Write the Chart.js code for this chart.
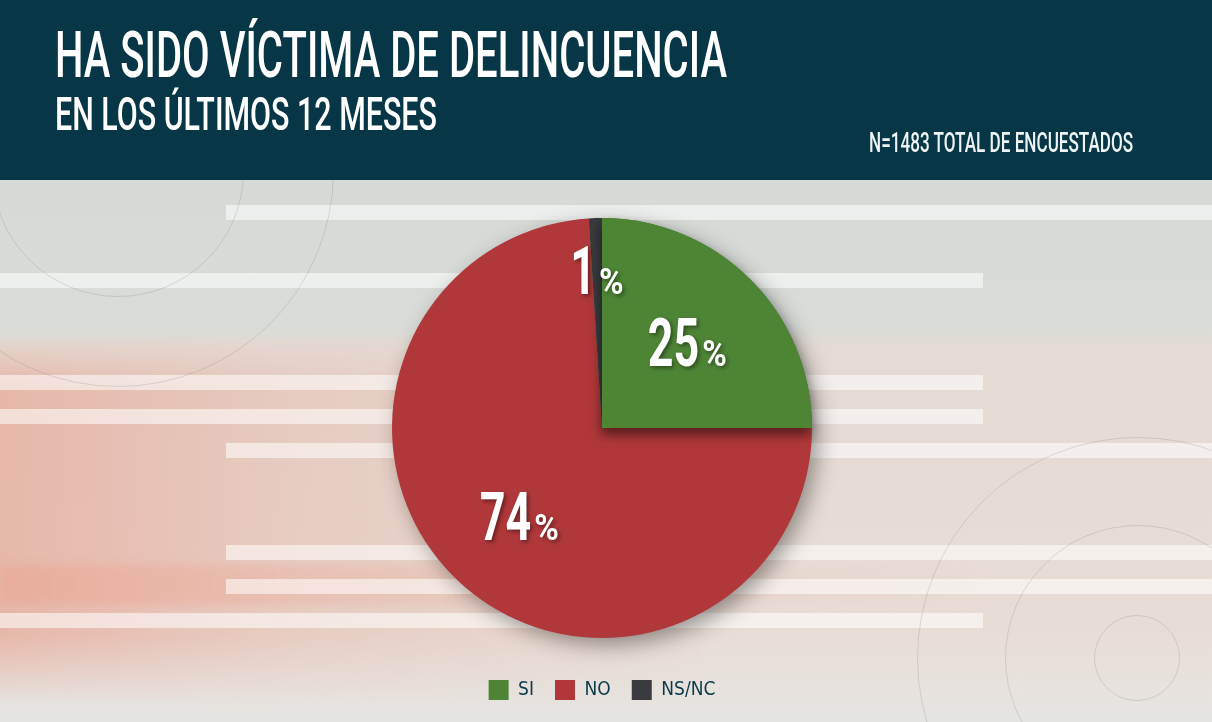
<!DOCTYPE html>
<html lang="es">
<head>
<meta charset="utf-8">
<title>Ha sido víctima de delincuencia</title>
<script src="https://cdn.jsdelivr.net/npm/chart.js@4.4.0/dist/chart.umd.min.js"></script>
<style>
    html, body { margin: 0; padding: 0; }
    body {
        width: 1212px; height: 722px; position: relative; overflow: hidden;
        font-family: Roboto, sans-serif; background: #e6e3df;
    }
    .header {
        position: absolute; left: 0; top: 0; width: 1212px; height: 180px;
        background: #073746; z-index: 2;
    }
    .header .t {
        position: absolute; color: #fff; white-space: nowrap; line-height: 1;
        transform-origin: 0 0; font-weight: 500;
    }
    #title1 { left: 55px; top: 23px; font-size: 65px; }
    #title2 { left: 55px; top: 91px; font-size: 46.5px; }
    #note { left: 869px; top: 129px; font-size: 28px; color: #eef3f4; }

    .bg {
        position: absolute; left: 0; top: 180px; width: 1212px; height: 542px; overflow: hidden;
        background: linear-gradient(to bottom, #d6dad7 0, #d9dcd9 145px, #e5dbd4 170px, #e8ddd6 450px, #e7e3df 515px, #e4e5e2 542px);
    }
    .pink {
        position: absolute; left: 0; top: 155px; width: 900px; height: 370px;
        background: linear-gradient(to right, rgba(230,160,140,0.6) 0, rgba(232,175,158,0.35) 300px, rgba(232,190,175,0) 720px);
        -webkit-mask-image: linear-gradient(to bottom, transparent 0, #000 50px, #000 300px, transparent 370px);
    }
    .band {
        position: absolute; left: 0; top: 385px; width: 1212px; height: 40px;
        background: linear-gradient(to right, rgba(235,160,140,0.45) 0, rgba(235,170,150,0.2) 500px, rgba(235,170,150,0) 1000px);
        filter: blur(4px);
    }
    .stripe { position: absolute; height: 15px; background: rgba(255,255,255,0.55); }
    .ring { position: absolute; border-radius: 50%; border: 1.5px solid rgba(120,120,120,0.22); }
    #chartBox { position: absolute; left: 0; top: 180px; width: 1212px; height: 542px; z-index: 1; }
</style>
</head>
<body>
<div class="header">
    <div class="t" id="title1" data-w="672">HA SIDO VÍCTIMA DE DELINCUENCIA</div>
    <div class="t" id="title2" data-w="382">EN LOS ÚLTIMOS 12 MESES</div>
    <div class="t" id="note" data-w="264">N=1483 TOTAL DE ENCUESTADOS</div>
</div>
<div class="bg" id="bg">
    <div class="pink"></div>
    <div class="band"></div>
</div>
<div id="chartBox"><canvas id="pieChart"></canvas></div>

<script>
// Chart data
const categories = ["SI", "NO", "NS/NC"];
const percentages = [25, 74, 1];
const sliceColors = ["#4e8535", "#b1383a", "#3a3b3e"];

// Squeeze header texts to the condensed widths of the original
document.querySelectorAll(".header .t").forEach(el => {
    const target = Number(el.dataset.w);
    el.style.transform = "scaleX(" + (target / el.offsetWidth) + ")";
});

// Background decoration: stripes and rings (page coords minus header)
const bg = document.getElementById("bg");
[[205, 226, 1212], [273, 0, 983], [375, 0, 983], [409, 0, 983],
 [443, 226, 1212], [545, 226, 1212], [579, 226, 1212], [613, 0, 983]].forEach(s => {
    const d = document.createElement("div");
    d.className = "stripe";
    d.style.top = (s[0] - 180) + "px";
    d.style.left = s[1] + "px";
    d.style.width = (s[2] - s[1]) + "px";
    bg.appendChild(d);
});
[[117, 170, 125], [117, 170, 215], [1137, 657, 220], [1137, 657, 132], [1136, 657, 42]].forEach(c => {
    const d = document.createElement("div");
    d.className = "ring";
    d.style.left = (c[0] - c[2]) + "px";
    d.style.top = (c[1] - 180 - c[2]) + "px";
    d.style.width = d.style.height = (c[2] * 2) + "px";
    bg.appendChild(d);
});

// Soft drop shadow behind the pie
const pieShadow = {
    id: "pieShadow",
    beforeDatasetsDraw(chart) {
        const arc = chart.getDatasetMeta(0).data[0];
        if (!arc) return;
        const ctx = chart.ctx;
        ctx.save();
        ctx.shadowColor = "rgba(0,0,0,0.4)";
        ctx.shadowBlur = 22;
        ctx.shadowOffsetX = 6;
        ctx.shadowOffsetY = 7;
        ctx.fillStyle = "#888";
        ctx.beginPath();
        ctx.arc(arc.x, arc.y, arc.outerRadius - 1, 0, Math.PI * 2);
        ctx.fill();
        ctx.restore();
    }
};

// Percentage labels inside the slices, plus the green slice's shadow on the red one
const pieLabels = {
    id: "pieLabels",
    afterDatasetsDraw(chart) {
        const ctx = chart.ctx;
        const meta = chart.getDatasetMeta(0);

        ctx.save();
        ctx.shadowColor = "rgba(0,0,0,0.5)";
        ctx.shadowBlur = 12;
        ctx.shadowOffsetX = -1;
        ctx.shadowOffsetY = 7;
        meta.data[0].draw(ctx);
        ctx.restore();

        const total = percentages.reduce((a, b) => a + b, 0);
        meta.data.forEach((arc, i) => {
            const mid = (arc.startAngle + arc.endAngle) / 2;
            const r = arc.outerRadius * (percentages[i] / total < 0.05 ? 0.75 : 0.575);
            const cx = arc.x + Math.cos(mid) * r;
            const cy = arc.y + Math.sin(mid) * r;
            drawLabel(ctx, String(percentages[i]), cx, cy);
        });
    }
};

function drawLabel(ctx, num, cx, cy) {
    const numSx = 0.68, pctSx = 0.9;
    ctx.save();
    ctx.font = "bold 66px Roboto";
    const wn = ctx.measureText(num).width * numSx;
    ctx.font = "bold 37px Roboto";
    const wp = ctx.measureText("%").width * pctSx;
    const gap = 3;
    const x0 = cx - (wn + gap + wp) / 2;
    const base = cy + 23.5;
    ctx.fillStyle = "#ffffff";
    ctx.shadowColor = "rgba(0,0,0,0.45)";
    ctx.shadowBlur = 4;
    ctx.shadowOffsetX = 2;
    ctx.shadowOffsetY = 2;
    ctx.textBaseline = "alphabetic";
    ctx.textAlign = "left";

    ctx.save();
    ctx.translate(x0, base);
    ctx.scale(numSx, 1);
    ctx.font = "bold 66px Roboto";
    ctx.fillText(num, 0, 0);
    ctx.restore();

    ctx.save();
    ctx.translate(x0 + wn + gap, base);
    ctx.scale(pctSx, 1);
    ctx.font = "bold 37px Roboto";
    ctx.fillText("%", 0, 0);
    ctx.restore();

    ctx.restore();
}

new Chart(document.getElementById("pieChart"), {
    type: "pie",
    data: {
        labels: categories,
        datasets: [{
            data: percentages,
            backgroundColor: sliceColors,
            borderWidth: 0,
            radius: 210
        }]
    },
    options: {
        responsive: true,
        maintainAspectRatio: false,
        animation: false,
        events: [],
        layout: {
            padding: { top: 17, bottom: 12, left: 0, right: 8 }
        },
        plugins: {
            legend: {
                position: "bottom",
                labels: {
                    boxWidth: 20,
                    boxHeight: 20,
                    padding: 21,
                    color: "#0c3a4a",
                    font: { family: "'DejaVu Sans Condensed', 'Liberation Sans Narrow', sans-serif", size: 19 }
                }
            },
            tooltip: { enabled: false }
        }
    },
    plugins: [pieShadow, pieLabels]
});
</script>
</body>
</html>
